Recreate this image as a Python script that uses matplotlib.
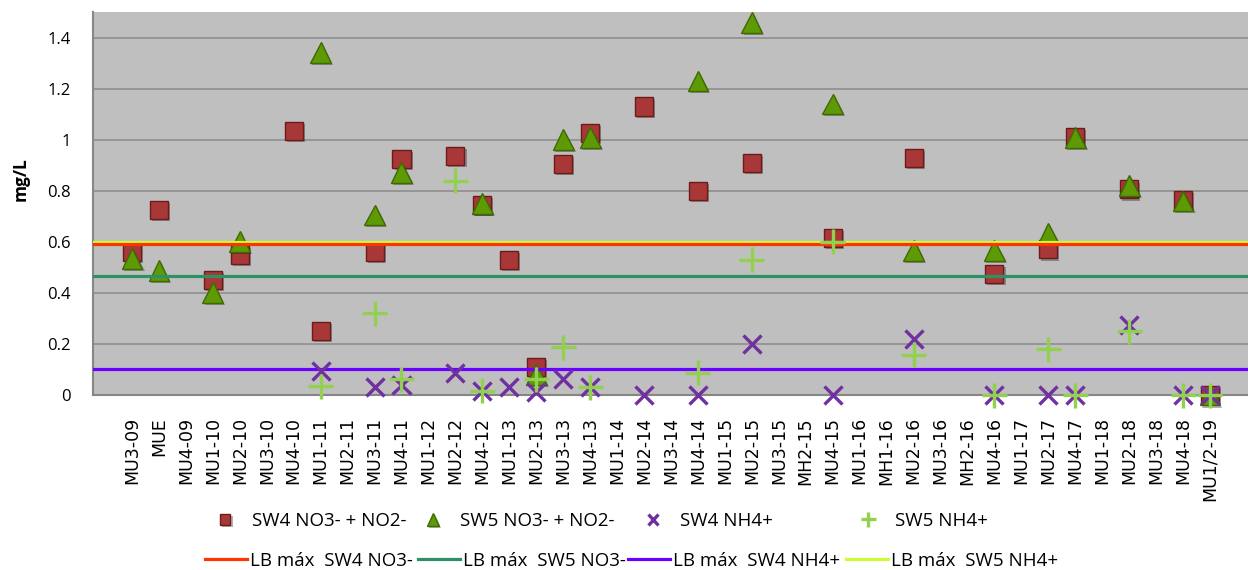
import numpy as np
import matplotlib
matplotlib.use("Agg")
import matplotlib.pyplot as plt
import matplotlib.patheffects as pe

nan = np.nan

categories = ["MU3-09", "MUE", "MU4-09", "MU1-10", "MU2-10", "MU3-10", "MU4-10",
              "MU1-11", "MU2-11", "MU3-11", "MU4-11", "MU1-12", "MU2-12", "MU4-12",
              "MU1-13", "MU2-13", "MU3-13", "MU4-13", "MU1-14", "MU2-14", "MU3-14",
              "MU4-14", "MU1-15", "MU2-15", "MU3-15", "MH2-15", "MU4-15", "MU1-16",
              "MH1-16", "MU2-16", "MU3-16", "MH2-16", "MU4-16", "MU1-17", "MU2-17",
              "MU4-17", "MU1-18", "MU2-18", "MU3-18", "MU4-18", "MU1/2-19"]

sw4_no3 = [0.56, 0.725, nan, 0.45, 0.55, nan, 1.035, 0.25, nan, 0.56, 0.925, nan,
           0.935, 0.745, 0.53, 0.11, 0.905, 1.025, nan, 1.13, nan, 0.80, nan, 0.91,
           nan, nan, 0.615, nan, nan, 0.93, nan, nan, 0.475, nan, 0.57, 1.01, nan,
           0.805, nan, 0.765, 0.0]
sw5_no3 = [0.535, 0.487, nan, 0.40, 0.60, nan, nan, 1.34, nan, 0.705, 0.87, nan,
           nan, 0.75, nan, 0.08, 1.0, 1.01, nan, nan, nan, 1.23, nan, 1.46,
           nan, nan, 1.14, nan, nan, 0.565, nan, nan, 0.565, nan, 0.634, 1.01, nan,
           0.82, nan, 0.76, 0.0]
sw4_nh4 = [nan, nan, nan, nan, nan, nan, nan, 0.095, nan, 0.033, 0.04, nan,
           0.085, 0.015, 0.033, 0.012, 0.063, 0.03, nan, 0.0, nan, 0.0, nan, 0.2,
           nan, nan, 0.0, nan, nan, 0.22, nan, nan, 0.0, nan, 0.0, 0.0, nan,
           0.274, nan, 0.0, 0.0]
sw5_nh4 = [nan, nan, nan, nan, nan, nan, nan, 0.035, nan, 0.32, 0.062, nan,
           0.84, 0.017, nan, 0.062, 0.187, 0.03, nan, nan, nan, 0.087, nan, 0.53,
           nan, nan, 0.6, nan, nan, 0.157, nan, nan, 0.0, nan, 0.18, 0.0, nan,
           0.25, nan, 0.0, 0.0]

# limites (LB max)
lb_sw4_no3 = 0.59
lb_sw5_no3 = 0.466
lb_sw4_nh4 = 0.10
lb_sw5_nh4 = 0.60

W, H = 1248, 570
fig = plt.figure(figsize=(W / 100, H / 100), dpi=100)
ax = fig.add_axes([93 / W, 1 - 395 / H, (W - 93) / W, (395 - 12) / H])
ax.set_facecolor("#BFBFBF")

x = np.arange(len(categories))
shadow = [pe.SimplePatchShadow(offset=(1.5, -1.5), alpha=0.3, shadow_rgbFace="k"), pe.Normal()]

sq, = ax.plot(x, sw4_no3, ls="none", marker="s", ms=13, mfc="#A83838", mec="#6E1A1A",
              mew=1, zorder=3, path_effects=shadow, clip_on=False)
tri, = ax.plot(x, sw5_no3, ls="none", marker="^", ms=15, mfc="#5E9A06", mec="#3E6A00",
               mew=1, zorder=3, path_effects=shadow, clip_on=False)
xm, = ax.plot(x, sw4_nh4, ls="none", marker="x", ms=13, mec="#7030A0", mew=2.4,
              zorder=5, path_effects=shadow, clip_on=False)
pl, = ax.plot(x, sw5_nh4, ls="none", marker="+", ms=18, mec="#92D050", mew=2.4,
              zorder=5, path_effects=shadow, clip_on=False)

l4 = ax.axhline(lb_sw5_nh4, color="#CCFF33", lw=2.3, zorder=4)
l1 = ax.axhline(lb_sw4_no3, color="#FF3300", lw=2.3, zorder=4)
l2 = ax.axhline(lb_sw5_no3, color="#2E9065", lw=2.3, zorder=4)
l3 = ax.axhline(lb_sw4_nh4, color="#6A00FF", lw=2.3, zorder=4)

ax.set_xlim((93 - 132) / 26.95, (1248 - 132) / 26.95)
ax.set_ylim(0, 1.5)
ax.set_yticks([0, 0.2, 0.4, 0.6, 0.8, 1.0, 1.2, 1.4])
ax.set_yticklabels(["0", "0.2", "0.4", "0.6", "0.8", "1", "1.2", "1.4"],
                   family="Open Sans", fontsize=12)
ax.set_xticks(x)
ax.set_xticklabels(categories, rotation=90, family="DejaVu Sans", fontsize=12.5)
ax.tick_params(axis="both", length=0)
ax.tick_params(axis="y", pad=16)
ax.tick_params(axis="x", pad=16)
ax.yaxis.grid(True, color="#8A8A8A", lw=1.1, zorder=1)
ax.set_axisbelow(True)
for s in ["top", "right"]:
    ax.spines[s].set_visible(False)
for s in ["left", "bottom"]:
    ax.spines[s].set_color("#868686")
    ax.spines[s].set_linewidth(1.5)

fig.text(21 / W, 1 - 179 / H, "mg/L", rotation=90, ha="center", va="center",
         family="Open Sans", fontweight="bold", fontsize=12.5)

fs = 13.5
fs_px = fs * 100 / 72


def entry(handle, label, x0, yc, hl, hpad):
    return fig.legend(handles=[handle], labels=[label], loc="center left",
                      bbox_to_anchor=(x0 / W, 1 - yc / H), frameon=False,
                      borderpad=0, borderaxespad=0, handlelength=hl,
                      handletextpad=hpad, markerscale=0.6,
                      prop={"family": "Open Sans", "size": fs})


# fila 1: series
for h, lab, xc in [(sq, "SW4 NO3- + NO2-", 225), (tri, "SW5 NO3- + NO2-", 433),
                   (xm, "SW4 NH4+", 653), (pl, "SW5 NH4+", 868)]:
    entry(h, lab, xc - fs_px / 2, 521, 1.0, 0.95)

# fila 2: limites
for h, lab, xs in [(l1, "LB máx  SW4 NO3-", 205), (l2, "LB máx  SW5 NO3-", 418),
                   (l3, "LB máx  SW4 NH4+", 628), (l4, "LB máx  SW5 NH4+", 846)]:
    entry(h, lab, xs, 561, 42 / fs_px, 0.15)

fig.savefig("out.png", dpi=100)
